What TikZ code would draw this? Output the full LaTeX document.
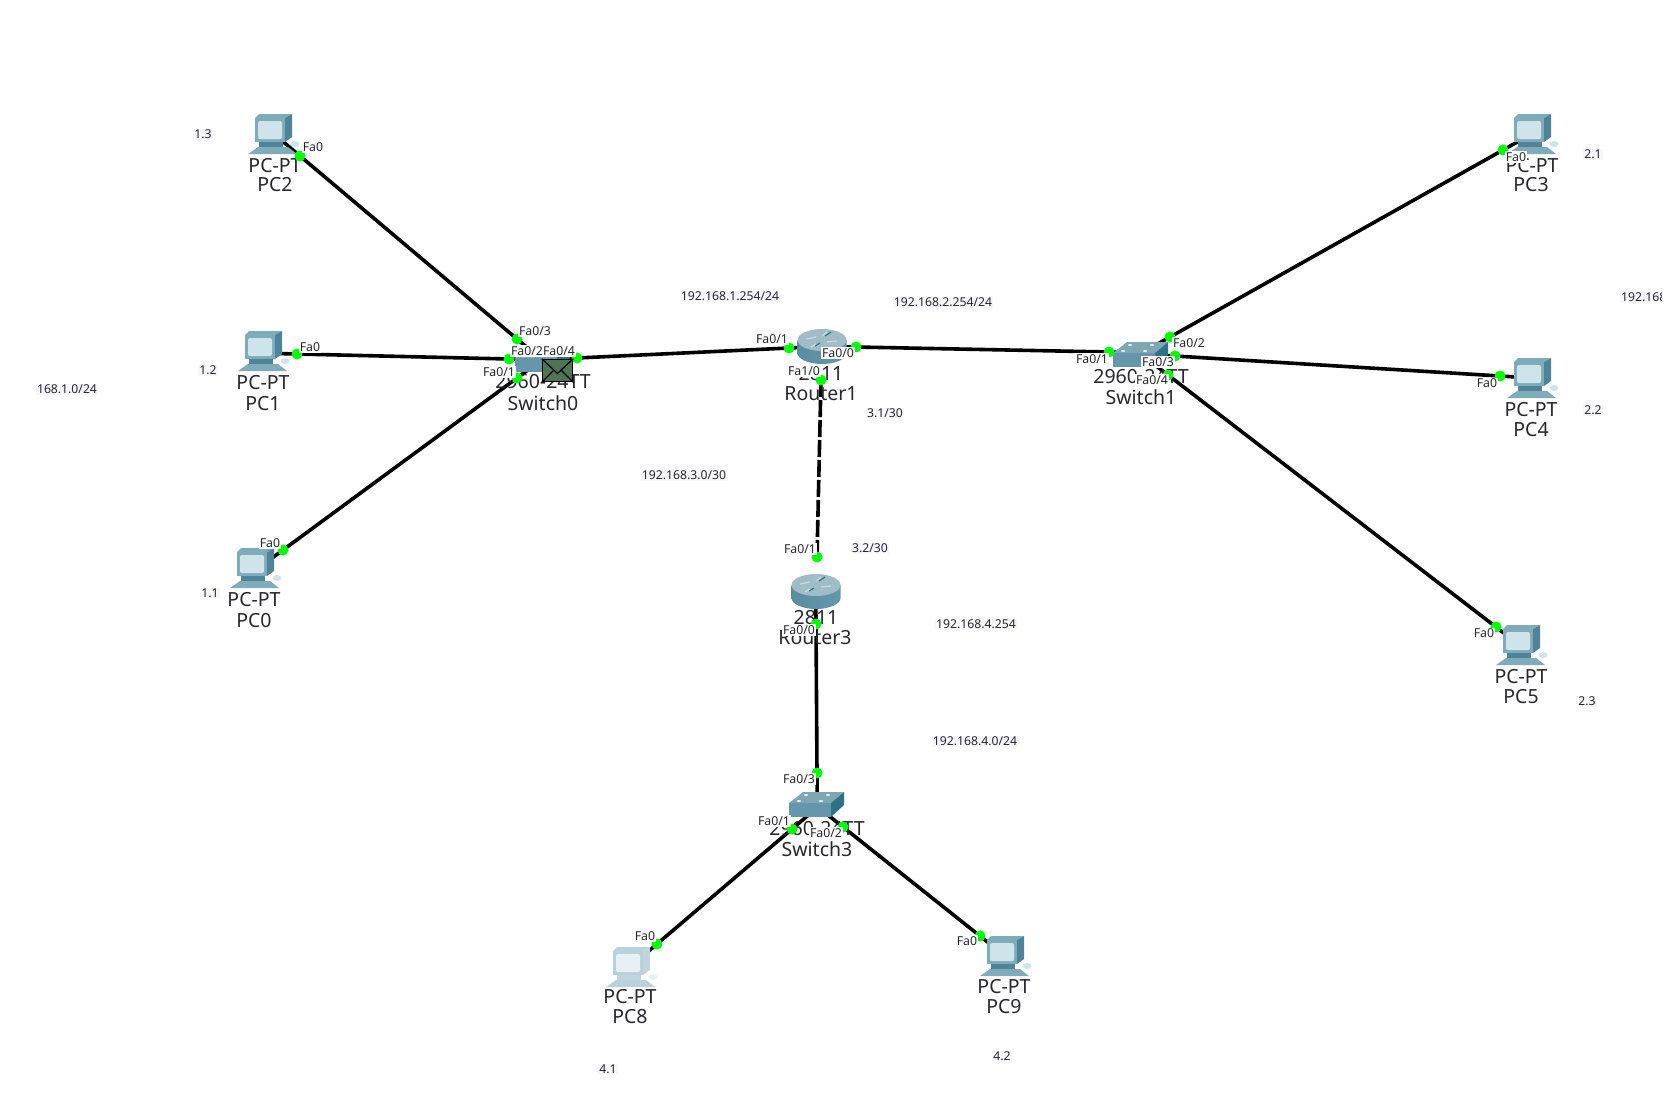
\documentclass[tikz,border=0pt]{standalone}
\usepackage{fontspec}
\setmainfont{Noto Sans}
\pgfdeclarelayer{bg}
\pgfsetlayers{bg,main}
\definecolor{pcdark}{HTML}{4F8498}
\definecolor{pcmid}{HTML}{7FACBB}
\definecolor{pcscreen}{HTML}{CFE3EA}
\definecolor{swtop}{HTML}{7FA6B5}
\definecolor{swfront}{HTML}{6497AB}
\definecolor{swside}{HTML}{2F7189}
\definecolor{notebg}{HTML}{F6F6FB}
\definecolor{envfill}{HTML}{4F7355}
\definecolor{inktext}{HTML}{26262E}
\tikzset{
  x=1pt,y=-1pt,
  devtext/.style={font=\fontsize{19.5}{20}\selectfont,text=inktext,inner sep=0pt,yshift=-0.8pt},
  porttext/.style={font=\fontsize{12.3}{14}\selectfont,text=inktext,fill=white,inner sep=1pt},
  notetext/.style={font=\fontsize{12.2}{13}\selectfont,text=inktext,fill=notebg,inner sep=1pt},
  portdot/.style={circle,fill=green,inner sep=0pt,minimum size=11pt},
  link/.style={line width=3.6pt,black,shorten <=-22pt,shorten >=-22pt},
  pics/pcicon/.style={code={
    \fill[pcmid] (-15,-16) -- (-11,-20) -- (22,-20) -- (15,-16) -- cycle;
    \fill[pcdark] (15,-16) -- (22,-20) -- (22,3) -- (15,8) -- cycle;
    \fill[pcmid] (-15,-16) rectangle (15,8);
    \fill[pcscreen,rounded corners=2pt] (-12,-13) rectangle (12,5);
    \fill[pcdark] (-11,8) rectangle (13,13);
    \fill[pcmid] (-22,20) -- (-12,13) -- (18,13) -- (27,20) -- cycle;
    \fill[pcscreen] (25,10) ellipse [x radius=4.5,y radius=3];
  }},
  pics/swicon/.style={code={
    \fill[swtop] (-27,-1) -- (-13,-12) -- (28,-12) -- (15,-1) -- cycle;
    \fill[swfront] (-27,-1) rectangle (15,13);
    \fill[swside] (15,-1) -- (28,-12) -- (28,1) -- (15,13) -- cycle;
    \foreach \a/\b in {-10/-9,12/-9,-17/-3,5/-3}
      \fill[white!80!swtop] (\a,\b) ellipse [x radius=2,y radius=1];
  }},
  pics/routericon/.style={code={
    \shade[left color=swside!80!white,middle color=white!92!swtop,right color=swfront]
      (-24.5,0) -- (-24.5,13) arc[start angle=180,end angle=360,x radius=24.5,y radius=-11] -- (24.5,0) -- cycle;
    \fill[white!25!swtop] (0,0) ellipse [x radius=24.5,y radius=11];
    \draw[white!55!swtop,line width=1.4pt] (-16,-1) -- (-6,-3) (5,2) -- (15,1);
    \draw[swside,line width=1.2pt] (-7,6) -- (-2,3) (3,-4) -- (9,-8);
    \draw[white!55!swtop,line width=1.4pt] (-11,7) -- (-6,4) (0,-4) -- (5,-8);
  }},
}
\begin{document}
\begin{tikzpicture}
\useasboundingbox (0,0) rectangle (1675,1096);
% device icons
\pic at (270,134) {pcicon};
\pic at (260,351) {pcicon};
\pic at (252,568) {pcicon};
\pic at (1529,134) {pcicon};
\pic at (1529,378) {pcicon};
\pic at (1518,645) {pcicon};
\pic at (1002,956) {pcicon};
\begin{scope}
  \colorlet{pcdark}{pcdark!35!white}
  \colorlet{pcmid}{pcmid!55!white}
  \colorlet{pcscreen}{pcscreen!50!white}
  \pic at (628,967) {pcicon};
\end{scope}
\pic at (542,359) {swicon};
\pic at (1140,354) {swicon};
\pic at (816,804) {swicon};
\pic at (822,340) {routericon};
\pic at (816,585) {routericon};
% device labels
\node[devtext] (lpc2a) at (275,164.5) {PC-PT};
\node[devtext] (lpc2b) at (275,184) {PC2};
\node[devtext] (lpc1a) at (263,382) {PC-PT};
\node[devtext] (lpc1b) at (263,403) {PC1};
\node[devtext] (lpc0a) at (254,599) {PC-PT};
\node[devtext] (lpc0b) at (254,620) {PC0};
\node[devtext] (lpc3a) at (1532,164.5) {PC-PT};
\node[devtext] (lpc3b) at (1531,184) {PC3};
\node[devtext] (lpc4a) at (1531,409) {PC-PT};
\node[devtext] (lpc4b) at (1531,429) {PC4};
\node[devtext] (lpc5a) at (1521,676) {PC-PT};
\node[devtext] (lpc5b) at (1521,696) {PC5};
\node[devtext] (lpc8a) at (630,996) {PC-PT};
\node[devtext] (lpc8b) at (630,1016) {PC8};
\node[devtext] (lpc9a) at (1004,986) {PC-PT};
\node[devtext] (lpc9b) at (1004,1006) {PC9};
\node[devtext] (lsw0a) at (543,381) {2960-24TT};
\node[devtext] (lsw0b) at (543,402) {Switch0};
\node[devtext] (lsw1a) at (1141,376) {2960-24TT};
\node[devtext] (lsw1b) at (1141,396) {Switch1};
\node[devtext] (lsw3a) at (817,828) {2960-24TT};
\node[devtext] (lsw3b) at (817,848) {Switch3};
\node[devtext] (lr1a) at (821,373) {2811};
\node[devtext] (lr1b) at (821,393) {Router1};
\node[devtext] (lr3a) at (816,617) {2811};
\node[devtext] (lr3b) at (815,637) {Router3};
% ports
\node[portdot] (pc2p) at (300,156) {};
\node[portdot] (pc1p) at (297,354) {};
\node[portdot] (pc0p) at (283,550) {};
\node[portdot] (pc3p) at (1503,150) {};
\node[portdot] (pc4p) at (1500,376) {};
\node[portdot] (pc5p) at (1496,627) {};
\node[portdot] (pc8p) at (657,944) {};
\node[portdot] (pc9p) at (980,936) {};
\node[portdot] (s0p3) at (517,339) {};
\node[portdot] (s0p2) at (509,359) {};
\node[portdot] (s0p1) at (517,378) {};
\node[portdot] (s0p4) at (577,358) {};
\node[portdot] (r1p1) at (789,348) {};
\node[portdot] (r1p0) at (856,347) {};
\node[portdot] (r1p10) at (821,380) {};
\node[portdot] (s1p1) at (1109,352) {};
\node[portdot] (s1p2) at (1170,337) {};
\node[portdot] (s1p3) at (1175,356) {};
\node[portdot] (s1p4) at (1168,375) {};
\node[portdot] (r3p1) at (817,557) {};
\node[portdot] (r3p0) at (816,624) {};
\node[portdot] (s3p3) at (817,773) {};
\node[portdot] (s3p1) at (792,829) {};
\node[portdot] (s3p2) at (843,827) {};
% connectors
\begin{pgfonlayer}{bg}
\draw[link] (pc2p.center) -- (s0p3.center);
\draw[link] (pc1p.center) -- (s0p2.center);
\draw[link] (pc0p.center) -- (s0p1.center);
\draw[link] (s0p4.center) -- (r1p1.center);
\draw[link] (r1p0.center) -- (s1p1.center);
\draw[link] (s1p2.center) -- (pc3p.center);
\draw[link] (s1p3.center) -- (pc4p.center);
\draw[link] (s1p4.center) -- (pc5p.center);
\draw[line width=3.6pt,dash pattern=on 17pt off 3pt] (r1p10.center) -- (r3p1.center);
\draw[link] (r3p0.center) -- (s3p3.center);
\draw[link] (s3p1.center) -- (pc8p.center);
\draw[link] (s3p2.center) -- (pc9p.center);
\end{pgfonlayer}
% port labels
\node[porttext] (t1) at (313,147) {Fa0};
\node[porttext] (t2) at (310,347) {Fa0};
\node[porttext] (t3) at (270,543) {Fa0};
\node[porttext] (t4) at (535,331) {Fa0/3};
\node[porttext] (t5) at (527,351) {Fa0/2};
\node[porttext] (t6) at (559,351) {Fa0/4};
\node[porttext] (t7) at (499,372) {Fa0/1};
\node[porttext] (t8) at (772,339) {Fa0/1};
\node[porttext] (t9) at (838,353) {Fa0/0};
\node[porttext] (t10) at (804,371) {Fa1/0};
\node[porttext] (t11) at (1092,359) {Fa0/1};
\node[porttext] (t12) at (1189,343) {Fa0/2};
\node[porttext] (t13) at (1158,362) {Fa0/3};
\node[porttext] (t14) at (1152,380) {Fa0/4};
\node[porttext] (t15) at (1516,157) {Fa0};
\node[porttext] (t16) at (1487,383.5) {Fa0};
\node[porttext] (t17) at (1484,633.5) {Fa0};
\node[porttext] (t18) at (800,549) {Fa0/1};
\node[porttext] (t19) at (799,630) {Fa0/0};
\node[porttext] (t20) at (799,779) {Fa0/3};
\node[porttext] (t21) at (774,821) {Fa0/1};
\node[porttext] (t22) at (826,833) {Fa0/2};
\node[porttext] (t23) at (645,936) {Fa0};
\node[porttext] (t24) at (967,941) {Fa0};
% notes
\node[notetext] (n1) at (203,134) {1.3};
\node[notetext] (n2) at (208,370) {1.2};
\node[notetext] (n3) at (210,593) {1.1};
\node[notetext] (n4) at (67,389) {168.1.0/24};
\node[notetext] (n5) at (730,296) {192.168.1.254/24};
\node[notetext] (n6) at (943,302) {192.168.2.254/24};
\node[notetext] (n7) at (885,413) {3.1/30};
\node[notetext] (n8) at (684,475) {192.168.3.0/30};
\node[notetext] (n9) at (870,548) {3.2/30};
\node[notetext] (n10) at (976,624) {192.168.4.254};
\node[notetext] (n11) at (975,741) {192.168.4.0/24};
\node[notetext] (n12) at (1593,154) {2.1};
\node[notetext] (n13) at (1593,410) {2.2};
\node[notetext] (n14) at (1587,701) {2.3};
\node[notetext] (n15) at (608,1069) {4.1};
\node[notetext] (n16) at (1002,1056) {4.2};
\node[notetext,anchor=west] (n17) at (1620,297) {192.168};
\fill[white] (1662,0) rectangle (1675,1096);
% envelope
\node[draw=black,line width=1.5pt,fill=envfill,minimum width=30pt,minimum height=22pt,inner sep=0pt] (env) at (557.5,370.5) {};
\draw[black,line width=1.2pt] (env.north west) -- ([yshift=-3pt]env.center) -- (env.north east);
\draw[black,line width=1.2pt] (env.south west) -- ([xshift=-4pt]env.center) (env.south east) -- ([xshift=4pt]env.center);
\end{tikzpicture}
\end{document}
